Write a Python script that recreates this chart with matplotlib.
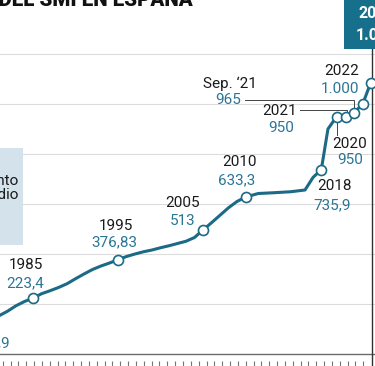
import matplotlib
matplotlib.use("Agg")
import matplotlib.pyplot as plt
from matplotlib.patches import Rectangle
import numpy as np

plt.rcParams['font.family'] = ['Roboto', 'DejaVu Sans']

# evolucion del SMI (euros/mes); posicion horizontal, en años
line_x = [1980, 1981, 1982, 1983, 1984, 1985, 1986, 1987, 1988, 1989, 1990,
          1991, 1992, 1993, 1994, 1995, 1996, 1997, 1998, 1999, 2000, 2001,
          2002, 2003, 2004, 2004.96, 2006, 2007, 2008, 2009, 2010.02, 2011.5,
          2013.3, 2015.3, 2017.0, 2017.94, 2018.92, 2019.7, 2020.73, 2021.82,
          2022.76, 2023.79, 2024.73]
line_v = [142, 153, 171, 193, 210, 223.4, 241, 253, 266, 281, 301,
          320, 338, 352, 364, 376.83, 390, 400, 409, 416, 425, 433,
          442, 451, 466, 495, 525, 555, 585, 610, 628, 642,
          645, 649, 656, 706, 738, 900, 950, 948,
          965, 1000, 1085]

# puntos marcados
pt_x = [1985, 1995, 2004.96, 2010.02, 2018.92, 2020.73, 2021.82, 2022.76, 2023.79, 2024.73]
pt_v = [223.4, 376.83, 495, 628, 738, 950, 948, 965, 1000, 1085]
pt_year = ["1985", "1995", "2005", "2010", "2018", "2020", "2021", "Sep. \u201821", "2022", "2023"]
pt_label = ["223,4", "376,83", "513", "633,3", "735,9", "950", "950", "965", "1.000", "1.080"]

# offsets de las etiquetas (px): año y valor
year_off = [(-7, -33), (-2, -34), (-20, -27), (-6, -35), (13, 17), (13, 27),
            (-66, -6), (-124, -29), (-21, -33)]
val_off = [(-8, -15), (-4, -17), (-20, -9), (-9, -17), (11, 36), (13, 43),
           (-65, 11), (-126, -13), (-23, -15)]

grid_vals = [200, 400, 600, 800, 1000, 1200]

TEAL = '#1b6a86'
TEAL_TXT = '#2a7695'
DARK = '#1a1a1a'
FS = 11

W, H = 375, 366
PX_X = 8.5    # px por año
PX_Y = 0.25   # px por euro
x0 = 1985 - 33 / PX_X
ymax = 354 / PX_Y

fig = plt.figure(figsize=(W / 100, H / 100), dpi=100)
ax = fig.add_axes([0, 0, 1, 1])
ax.set_xlim(x0, x0 + W / PX_X)
ax.set_ylim(ymax - H / PX_Y, ymax)
for s in ax.spines.values():
    s.set_visible(False)
ax.set_yticks([])
ticks = x0 + (2.7 + 7.84 * np.arange(47)) / PX_X
ax.set_xticks(ticks)
ax.tick_params(axis='x', direction='in', length=3.8, width=0.8, color='#777777',
               labelbottom=False)

for g in grid_vals:
    ax.axhline(g, color='#dcdcdc', lw=0.8, zorder=1)
ax.axhline(0, color='#6b6b6b', lw=1.0, zorder=1)

# caja izquierda
ax.add_patch(Rectangle((-0.2, (H - 245) / H), 0.2 + 23 / W, 97 / H,
                       transform=ax.transAxes, color='#d4e2eb', zorder=2, lw=0))
ax.text(18.5 / W, (H - 188) / H, "Incremento\nmedio", transform=ax.transAxes,
        ha='right', va='center', fontsize=FS, color=DARK, linespacing=1.05, zorder=3)

# titulo cortado arriba
ax.text(193 / W, (H - 6) / H, "EVOLUCIÓN DEL SMI EN ESPAÑA", transform=ax.transAxes,
        ha='right', va='baseline', fontsize=14.8, fontweight='heavy', color='#111111')

# caja 2023
ax.add_patch(Rectangle((343.5 / W, (H - 49) / H), 0.2, 0.2,
                       transform=ax.transAxes, color='#16708c', zorder=2, lw=0))
ax.text(377 / W, (H - 14) / H, pt_year[-1], transform=ax.transAxes, ha='center',
        va='center', fontsize=11.5, fontweight='bold', color='white', zorder=3)
ax.text(376 / W, (H - 35) / H, pt_label[-1], transform=ax.transAxes, ha='center',
        va='center', fontsize=11.5, fontweight='bold', color='white', zorder=3)
ax.plot([pt_x[-1] + 0.2] * 2, [ymax - 49 / PX_Y, ymax - H / PX_Y], color='#333333',
        lw=1.0, zorder=2)

# linea
ax.plot(line_x, line_v, color=TEAL, lw=2.2, zorder=4, solid_capstyle='round',
        solid_joinstyle='round')
ax.plot(pt_x, pt_v, 'o', ms=7.2, mfc='white', mec=TEAL, mew=1.2, zorder=5)

# primer valor, cortado a la izquierda
ax.text(10 / W, (H - 343) / H, "142,9", transform=ax.transAxes, ha='right',
        va='center', fontsize=FS, color=TEAL_TXT)

for i in range(len(year_off)):
    ax.annotate(pt_year[i], (pt_x[i], pt_v[i]), xytext=(year_off[i][0] * 0.72, -year_off[i][1] * 0.72),
                textcoords='offset points', ha='center', va='center', fontsize=FS, color=DARK)
    ax.annotate(pt_label[i], (pt_x[i], pt_v[i]), xytext=(val_off[i][0] * 0.72, -val_off[i][1] * 0.72),
                textcoords='offset points', ha='center', va='center', fontsize=FS, color=TEAL_TXT)

# lineas guia (px relativos al punto)
leaders = {5: [(0, 5), (0, 18.3)],
           6: [(-46, -7.3), (1, -7.3), (1, -5)],
           7: [(-109, -12.7), (0.5, -12.7), (0.5, -5)]}
for i, segs in leaders.items():
    xs = [pt_x[i] + dx / PX_X for dx, dy in segs]
    ys = [pt_v[i] - dy / PX_Y for dx, dy in segs]
    ax.plot(xs, ys, color='#444444', lw=0.7, zorder=3)

fig.savefig("out.png", dpi=100)
